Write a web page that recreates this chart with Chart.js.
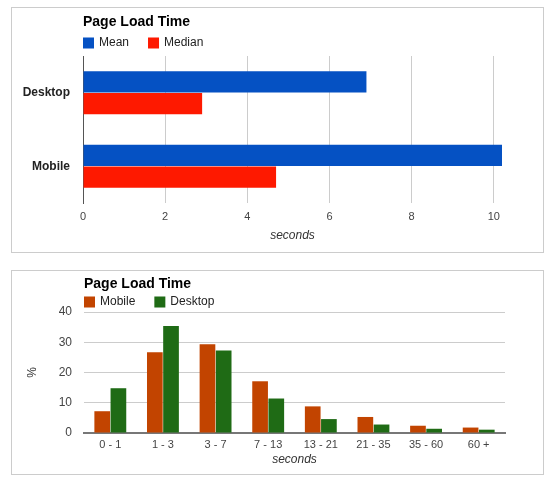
<!DOCTYPE html>
<html>
<head>
<meta charset="utf-8">
<script src="https://cdn.jsdelivr.net/npm/chart.js@4/dist/chart.umd.min.js"></script>
<style>
  body { margin: 0; background: #fff; }
  .box { position: absolute; left: 11px; width: 533px; border: 1px solid #ccc; box-sizing: border-box; background: #fff; }
  #box1 { top: 7px; height: 246px; }
  #box2 { top: 270px; height: 205px; }
</style>
</head>
<body>
<div class="box" id="box1"><canvas id="chart1"></canvas></div>
<div class="box" id="box2"><canvas id="chart2"></canvas></div>
<script>
// chart 1: mean / median load time
var platforms = ['Desktop', 'Mobile'];
var meanSeconds = [6.9, 10.2];
var medianSeconds = [2.9, 4.7];
var secondsTicks = [0, 2, 4, 6, 8, 10];

// chart 2: distribution of load times
var loadBins = ['0 - 1', '1 - 3', '3 - 7', '7 - 13', '13 - 21', '21 - 35', '35 - 60', '60 +'];
var mobilePct = [7.2, 26.7, 29.3, 17.1, 8.8, 5.3, 2.4, 1.8];
var desktopPct = [14.8, 35.4, 27.3, 11.4, 4.6, 2.8, 1.4, 1.1];
var pctTicks = [0, 10, 20, 30, 40];

Chart.defaults.font.family = '"Liberation Sans", Arial, sans-serif';
Chart.defaults.color = '#444';

// title + legend drawn from the left edge of the plot area
var header = {
    id: 'header',
    afterDraw: function(chart, args, opts) {
        var ctx = chart.ctx;
        var x = chart.chartArea.left;
        ctx.save();
        ctx.textAlign = 'left';
        ctx.textBaseline = 'middle';
        ctx.font = 'bold 14px "Liberation Sans", Arial, sans-serif';
        ctx.fillStyle = '#000';
        ctx.fillText(opts.text, x, opts.titleY);
        ctx.font = '12px "Liberation Sans", Arial, sans-serif';
        chart.data.datasets.forEach(function(ds) {
            ctx.fillStyle = ds.backgroundColor;
            ctx.fillRect(x, opts.legendY - 5.5, 11, 11);
            ctx.fillStyle = '#222';
            ctx.fillText(ds.label, x + 16, opts.legendY);
            x += 16 + ctx.measureText(ds.label).width + 19;
        });
        ctx.restore();
    }
};

function keepTicks(list) {
    return function(scale) {
        scale.ticks = list.map(function(v) { return {value: v}; });
    };
}

new Chart(document.getElementById('chart1'), {
    type: 'bar',
    plugins: [header],
    data: {
        labels: platforms,
        datasets: [
            {label: 'Mean', data: meanSeconds, backgroundColor: '#0551c3'},
            {label: 'Median', data: medianSeconds, backgroundColor: '#fe1900'}
        ]
    },
    options: {
        indexAxis: 'y',
        responsive: true,
        maintainAspectRatio: false,
        animation: false,
        layout: {padding: {top: 48, right: 41, left: 0, bottom: 0}},
        datasets: {bar: {categoryPercentage: 0.59, barPercentage: 0.98}},
        plugins: {
            legend: {display: false},
            tooltip: {enabled: false},
            header: {text: 'Page Load Time', titleY: 14, legendY: 35}
        },
        scales: {
            x: {
                min: 0,
                max: 10.2,
                afterBuildTicks: keepTicks(secondsTicks),
                afterFit: function(s) { s.height = 49; },
                grid: {
                    drawTicks: false,
                    color: function(c) { return c.tick && c.tick.value === 0 ? 'rgba(0,0,0,0)' : '#cccccc'; }
                },
                border: {display: false},
                ticks: {padding: 7, font: {size: 11}, color: '#444'},
                title: {display: true, text: 'seconds', font: {size: 12, style: 'italic'}, color: '#333', padding: {top: 0, bottom: 9}}
            },
            y: {
                afterFit: function(s) { s.width = 71; },
                grid: {display: false, drawTicks: false},
                border: {display: true, color: '#555'},
                ticks: {padding: 13, font: {size: 12, weight: 'bold'}, color: '#222'}
            }
        }
    }
});

new Chart(document.getElementById('chart2'), {
    type: 'bar',
    plugins: [header],
    data: {
        labels: loadBins,
        datasets: [
            {label: 'Mobile', data: mobilePct, backgroundColor: '#c24400'},
            {label: 'Desktop', data: desktopPct, backgroundColor: '#1f6b15'}
        ]
    },
    options: {
        responsive: true,
        maintainAspectRatio: false,
        animation: false,
        layout: {padding: {top: 41, right: 38, left: 0, bottom: 0}},
        datasets: {bar: {categoryPercentage: 0.615, barPercentage: 0.97}},
        plugins: {
            legend: {display: false},
            tooltip: {enabled: false},
            header: {text: 'Page Load Time', titleY: 13, legendY: 31}
        },
        scales: {
            x: {
                afterFit: function(s) { s.height = 41; },
                grid: {display: false, drawTicks: false},
                border: {display: true, color: '#777', width: 2},
                ticks: {padding: 5, font: {size: 11}, color: '#444'},
                title: {display: true, text: 'seconds', font: {size: 12, style: 'italic'}, color: '#333', padding: {top: 0, bottom: 7}}
            },
            y: {
                min: 0,
                max: 40,
                afterBuildTicks: keepTicks(pctTicks),
                afterFit: function(s) { s.width = 72; },
                grid: {
                    drawTicks: false,
                    color: function(c) { return c.tick && c.tick.value === 0 ? 'rgba(0,0,0,0)' : '#cccccc'; }
                },
                border: {display: false},
                ticks: {padding: 12, font: {size: 12}, color: '#444'},
                title: {display: true, text: '%', font: {size: 12}, color: '#333', padding: {top: 13, bottom: 0}}
            }
        }
    }
});
</script>
</body>
</html>
